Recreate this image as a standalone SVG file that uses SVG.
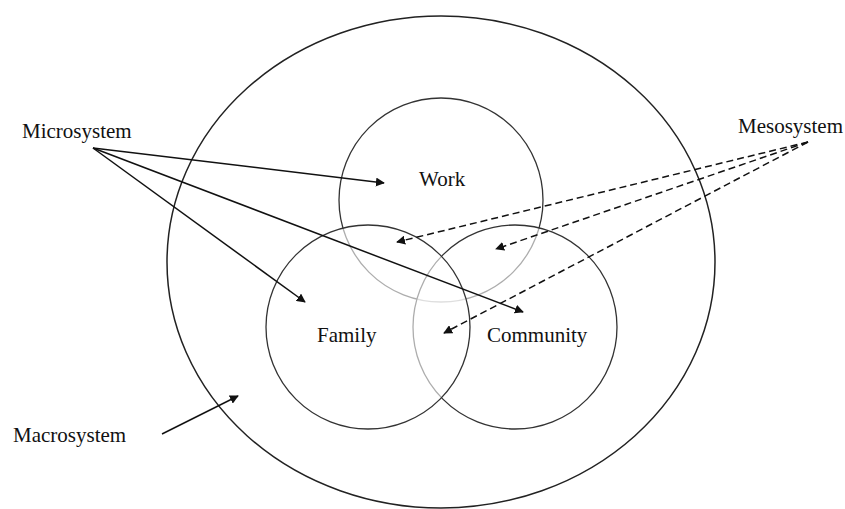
<svg xmlns="http://www.w3.org/2000/svg" width="845" height="509" viewBox="0 0 845 509">
  <style>
    .label { font-family: "Liberation Serif", "Times New Roman", serif; font-size: 21px; fill: #111; }
    .ring { fill: #fff; fill-opacity: 0.6; stroke: #333; stroke-width: 1.3; }
    .outer { fill: none; stroke: #222; stroke-width: 1.5; }
    .solid { stroke: #111; stroke-width: 1.5; fill: none; marker-end: url(#tip); }
    .dashed { stroke: #111; stroke-width: 1.5; fill: none; stroke-dasharray: 7 4; marker-end: url(#tip); }
  </style>
  <defs>
    <marker id="tip" viewBox="0 0 10 10" refX="9" refY="5" markerWidth="6" markerHeight="6" markerUnits="strokeWidth" orient="auto">
      <path d="M0,0 L10,5 L0,10 z" fill="#111"/>
    </marker>
  </defs>
  <rect width="845" height="509" fill="#fff"/>

  <!-- outer macrosystem boundary -->
  <g id="macro-ring">
    <ellipse class="outer" cx="441" cy="262" rx="274" ry="246"/>
  </g>

  <!-- overlapping settings; translucent fills soften the lines they cover -->
  <g id="work">
    <circle class="ring" cx="441" cy="200" r="102"/>
    <text class="label" x="419" y="186">Work</text>
  </g>
  <g id="community">
    <circle class="ring" cx="515" cy="327" r="102"/>
  </g>
  <g id="family">
    <circle class="ring" cx="368" cy="327" r="102"/>
    <text class="label" x="317" y="342">Family</text>
  </g>
  <g id="community-label">
    <text class="label" x="487" y="342">Community</text>
  </g>

  <g id="microsystem">
    <text class="label" x="22" y="138">Microsystem</text>
  </g>
  <g id="mesosystem">
    <text class="label" x="738" y="133">Mesosystem</text>
  </g>
  <g id="macrosystem">
    <text class="label" x="13" y="442">Macrosystem</text>
  </g>

  <g id="connectors">
    <line class="solid" x1="93" y1="148" x2="384" y2="183"/>
    <line class="solid" x1="93" y1="148" x2="305" y2="302"/>
    <line class="solid" x1="93" y1="148" x2="523" y2="312"/>
    <line class="dashed" x1="808" y1="142" x2="397" y2="242"/>
    <line class="dashed" x1="808" y1="142" x2="496" y2="249"/>
    <line class="dashed" x1="808" y1="142" x2="444" y2="333"/>
    <line class="solid" x1="162" y1="434" x2="238" y2="396"/>
  </g>
</svg>
